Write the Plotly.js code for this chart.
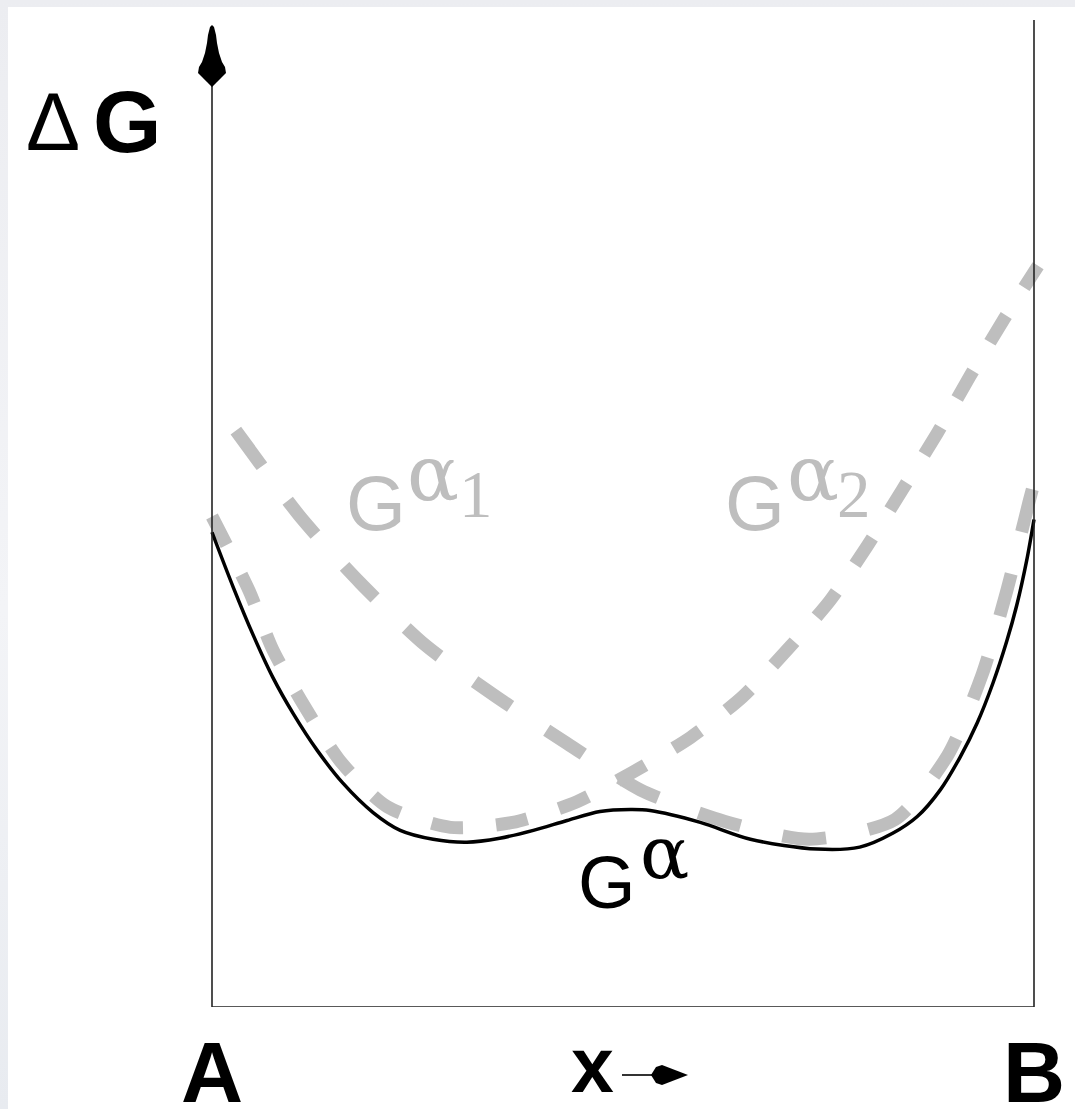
<!DOCTYPE html>
<html>
<head>
<meta charset="utf-8">
<script src="https://cdn.plot.ly/plotly-3.0.1.min.js"></script>
<style>
  html, body { margin: 0; padding: 0; width: 1075px; height: 1109px; overflow: hidden;
    background: linear-gradient(to bottom, #ECEDF1 0%, #F3F4F7 55%, #E8EBF0 100%); }
  #chart { position: absolute; left: 8px; top: 7px; width: 1067px; height: 1102px; background: #fff; }
</style>
</head>
<body>
<div id="chart"></div>
<script>
// Composition axis runs from pure A (0) to pure B (1); free energy in arbitrary units.
const endTicks = [0, 1];
const endLabels = ['A', 'B'];

// G^alpha1 : free-energy curve of the first variant (grey dashed)
const gAlpha1X = [0.029, 0.109, 0.180, 0.259, 0.343, 0.432, 0.521, 0.624, 0.727, 0.831, 0.895, 0.937, 0.967, 0.994, 1.001];
const gAlpha1Y = [5.84, 4.95, 4.30, 3.67, 3.16, 2.67, 2.20, 1.88, 1.70, 1.90, 2.55, 3.37, 4.22, 5.12, 5.34];

// G^alpha2 : free-energy curve of the second variant (grey dashed)
const gAlpha2X = [0.000, 0.045, 0.074, 0.113, 0.158, 0.213, 0.290, 0.366, 0.444, 0.512, 0.582, 0.645, 0.701, 0.752, 0.797, 0.839, 0.882, 0.922, 0.962, 1.005];
const gAlpha2Y = [4.97, 4.22, 3.62, 3.04, 2.47, 2.03, 1.82, 1.87, 2.08, 2.38, 2.73, 3.14, 3.63, 4.12, 4.67, 5.23, 5.81, 6.39, 6.95, 7.51];

// G^alpha : combined free energy of the alpha phase (solid black)
const gAlphaX = [0.000, 0.026, 0.050, 0.074, 0.099, 0.128, 0.159, 0.196, 0.229, 0.269, 0.310, 0.350, 0.391, 0.432, 0.472, 0.509, 0.533, 0.594, 0.655, 0.736, 0.788, 0.828, 0.858, 0.886, 0.910, 0.931, 0.950, 0.967, 0.979, 0.991, 1.000];
const gAlphaY = [4.81, 4.25, 3.77, 3.34, 2.97, 2.60, 2.27, 1.97, 1.79, 1.70, 1.67, 1.71, 1.79, 1.89, 1.98, 2.00, 1.99, 1.87, 1.70, 1.60, 1.62, 1.76, 1.93, 2.20, 2.53, 2.88, 3.28, 3.71, 4.07, 4.52, 4.94];

const SANS = 'Liberation Sans, Arial, Helvetica, sans-serif';
const SERIF = 'Liberation Serif, Times New Roman, serif';
const GREEK = 'DejaVu Serif, Liberation Serif, serif';
const GREY = '#BEBEBE';

const traces = [
  { x: gAlpha1X, y: gAlpha1Y, mode: 'lines', hoverinfo: 'skip',
    line: { color: GREY, width: 13, dash: '44px,43px', shape: 'spline', smoothing: 0.7 } },
  { x: gAlpha2X, y: gAlpha2Y, mode: 'lines', hoverinfo: 'skip',
    line: { color: GREY, width: 13, dash: '32px,33px', shape: 'spline', smoothing: 0.7 } },
  { x: gAlphaX, y: gAlphaY, mode: 'lines', hoverinfo: 'skip',
    line: { color: '#000', width: 3.5, shape: 'spline', smoothing: 0.9 } }
];

// labels placed on the paper so those outside the axes stay visible
function label(text, x, y, size, family, color, bold) {
  return { text: text, x: x, y: y, xref: 'paper', yref: 'paper', showarrow: false,
    xanchor: 'center', yanchor: 'middle',
    font: { family: family, size: size, color: color, weight: bold ? 'bold' : 'normal' } };
}

const annotations = [
  label('\u0394', -0.1770, 0.8962, 81, SANS, '#000', false),
  label('G', -0.0885, 0.8972, 88, SANS, '#000', true),
  label('x', 0.4632, -0.0592, 77, 'Liberation Sans Narrow, ' + SANS, '#000', true),
  // G^alpha1
  label('G', 0.2072, 0.5106, 77, SANS, GREY, false),
  label('\u03B1', 0.2749, 0.5406, 77, GREEK, GREY, false),
  label('1', 0.3254, 0.5193, 67, SERIF, GREY, false),
  // G^alpha2
  label('G', 0.6568, 0.5106, 77, SANS, GREY, false),
  label('\u03B1', 0.7251, 0.5406, 77, GREEK, GREY, false),
  label('2', 0.7738, 0.5193, 67, SERIF, GREY, false),
  // G^alpha
  label('G', 0.4810, 0.1261, 74, SANS, '#000', false),
  label('\u03B1', 0.5493, 0.1562, 73, GREEK, '#000', false)
];

const frame = { color: '#222', width: 1.6 };
const AX0 = 10 / 842;   // paper position of composition A
const shapes = [
  { type: 'line', xref: 'x', yref: 'y', x0: 0, x1: 1, y0: 0, y1: 0, line: frame },
  { type: 'line', xref: 'x', yref: 'y', x0: 1, x1: 1, y0: 0, y1: 10, line: frame },
  { type: 'line', xref: 'x', yref: 'y', x0: 0, x1: 0, y0: 0, y1: 9.4, line: frame },
  // arrowhead on the energy axis
  { type: 'path', xref: 'paper', yref: 'paper', xsizemode: 'pixel', ysizemode: 'pixel', xanchor: AX0, yanchor: 1,
    path: 'M0,-5 L2,-7 L4,-15 L5,-23 L7,-33 L10,-42 L13,-47 L14,-53 L10,-57 L5,-62 L0,-67 L-5,-62 L-10,-57 L-14,-53 L-13,-47 L-10,-42 L-7,-33 L-5,-23 L-4,-15 L-2,-7 Z',
    fillcolor: '#000', line: { width: 0 } },
  // small arrow after the composition label
  { type: 'path', xref: 'paper', yref: 'paper', xsizemode: 'pixel', ysizemode: 'pixel', xanchor: AX0, yanchor: 0,
    path: 'M410,-68 L442,-68', line: { color: '#000', width: 1.6 } },
  { type: 'path', xref: 'paper', yref: 'paper', xsizemode: 'pixel', ysizemode: 'pixel', xanchor: AX0, yanchor: 0,
    path: 'M439,-68 L444,-60 L450,-58 L476,-68 L450,-78 L444,-76 Z',
    fillcolor: '#000', line: { width: 0 } }
];

const layout = {
  width: 1067, height: 1102,
  margin: { l: 194, r: 31, t: 13, b: 102, pad: 0 },
  paper_bgcolor: '#fff', plot_bgcolor: '#fff',
  showlegend: false,
  xaxis: { range: [-10 / 822, 1 + 10 / 822], showgrid: false, zeroline: false, showline: false,
    ticks: '', tickvals: endTicks, ticktext: endLabels, ticklabelstandoff: 8,
    tickfont: { family: SANS, size: 86, color: '#000', weight: 'bold' }, fixedrange: true },
  yaxis: { range: [0, 10], showgrid: false, zeroline: false, showline: false,
    showticklabels: false, ticks: '', fixedrange: true },
  annotations: annotations,
  shapes: shapes
};

Plotly.newPlot('chart', traces, layout, { displayModeBar: false, staticPlot: true });
</script>
</body>
</html>
